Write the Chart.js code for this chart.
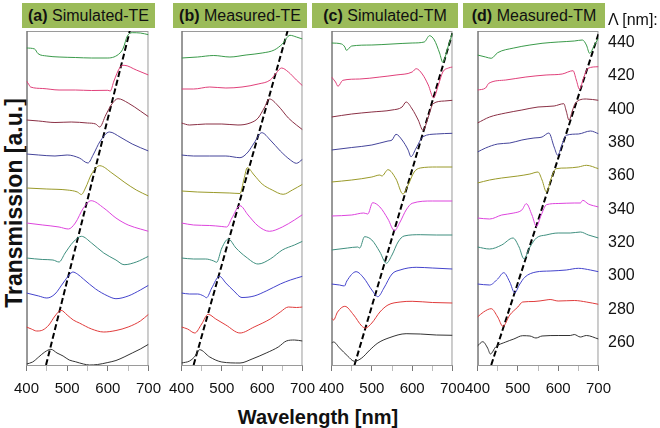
<!DOCTYPE html>
<html>
<head>
<meta charset="utf-8">
<script src="https://cdn.jsdelivr.net/npm/chart.js@4.4.0/dist/chart.umd.min.js"></script>
<style>
  body { margin: 0; background: #fff; font-family: "Liberation Sans", Arial, sans-serif; }
  #fig { position: relative; width: 660px; height: 428px; overflow: hidden; }
  .panel { position: absolute; top: 26px; }
  .title { position: absolute; top: 3px; height: 25px; line-height: 25px; background: #9bbb59;
           font-size: 16px; text-align: center; color: #111; white-space: nowrap; }
  .period { position: absolute; left: 608px; font-size: 16px; color: #111; }
  #ylab { position: absolute; left: 14px; top: 203px; transform: translate(-50%, -50%) rotate(-90deg);
          font-size: 23px; font-weight: bold; white-space: nowrap; color: #111; }
  #xlab { position: absolute; left: 318px; top: 417px; transform: translate(-50%, -50%);
          font-size: 20px; font-weight: bold; white-space: nowrap; color: #111; }
</style>
</head>
<body>
<div id="fig">
  <div id="ylab">Transmission [a.u.]</div>
  <div id="xlab">Wavelength [nm]</div>
</div>
<script>
// grating period of each curve, bottom to top
const periods = [260, 280, 300, 320, 340, 360, 380, 400, 420, 440];
const xTicks = [400, 500, 600, 700];
const panelTitles = [['(a)', 'Simulated-TE'], ['(b)', 'Measured-TE'], ['(c)', 'Simulated-TM'], ['(d)', 'Measured-TM']];

// vertical offset of each curve (value at 400 nm), a.u.
const baseA = [1, 38, 72, 107, 142, 177, 211, 245, 284, 317];
const baseB = [2, 38, 72, 107, 142, 174, 210, 242, 276, 307];
const baseC = [22, 47, 81, 115, 149, 183, 215, 248, 288, 322];
const baseD = [19, 48, 81, 118, 147, 182, 213, 242, 275, 310];

// [wavelength nm, transmission relative to offset] per curve
const simTE = [
  [[400,0],[415,2],[430,7],[445,12],[460,14.7],[475,11],[490,8],[505,4],[520,2.3],[540,0],[555,-1],[575,-0.5],[600,1.5],[620,3.5],[640,7],[660,11],[680,15],[700,19.7]],
  [[400,0],[412,-2],[425,-4],[440,-3],[455,2],[470,11],[485,16.7],[500,12],[515,7],[530,4],[560,-2],[590,-5],[620,-3.5],[650,0],[680,6],[700,12.7]],
  [[400,0],[430,-3],[450,-5],[470,-1],[490,10],[505,18],[514,21],[525,19],[540,14],[570,4],[600,-3],[620,-5.7],[650,-3],[680,3],[700,7.7]],
  [[400,0],[440,-1.5],[465,-2],[480,-4],[495,5],[515,16],[535,21.7],[560,15],[590,5],[620,-2],[640,-6.7],[670,-4],[700,1.7]],
  [[400,0],[440,-2],[480,-4],[503,-6],[520,0],[540,15],[559,22.3],[590,15],[620,5],[650,-2],[680,-6],[700,-8.3]],
  [[400,0],[450,-1],[500,-2],[525,-4],[535,-6.5],[545,0],[560,14],[580,22.3],[610,15],[640,6],[670,-2],[700,-8]],
  [[400,0],[430,-1],[470,-2],[500,-1],[530,-4],[551,-9],[565,0],[580,12],[604,22],[630,17],[660,10],[700,3]],
  [[400,0],[430,-1],[470,-2.5],[510,-2],[550,-3],[570,-4],[580,-7],[595,5],[610,16],[625,21.3],[650,17],[680,9],[700,3.3]],
  [[400,0],[405,-3],[410,-6],[440,-7.5],[480,-9],[520,-9],[560,-9.5],[600,-9.3],[606,-10],[615,0],[630,13.7],[640,15.7],[670,11],[700,6]],
  [[400,0],[420,-1],[428,-5.5],[450,-8],[480,-9],[520,-9.5],[560,-10],[600,-10],[630,-5],[638,0],[648,12],[660,15.3],[680,15],[700,13.3]]
];
const measTE = [
  [[400,0],[420,2],[432,6],[445,13.3],[470,6],[500,1],[545,0],[575,4],[610,10],[640,16],[660,22],[680,23],[700,22]],
  [[400,0],[415,-2],[433,-6],[450,3],[466,12.7],[485,8],[510,2],[545,-6],[580,0],[620,8],[645,15],[665,20],[685,19.5],[700,20]],
  [[400,0],[420,-1],[440,-1],[455,-3],[462,-4.7],[475,5],[494,16.7],[510,10],[530,2],[550,-4.5],[580,-3],[610,2],[645,9],[670,13],[700,16.7]],
  [[400,0],[430,-1],[460,-1],[480,-3],[487,-4.3],[500,10],[516,19],[535,10],[560,1],[590,-6],[620,-1],[650,8],[680,13],[700,16.7]],
  [[400,0],[430,-2],[470,-2.5],[500,-3.5],[512,-4],[525,5],[545,17.3],[565,8],[590,-3],[618,-8.3],[650,-4],[680,3],[700,8.3]],
  [[400,0],[440,-1],[480,-1.5],[520,-2],[545,-2.5],[555,12],[563,23.3],[580,16],[600,7],[625,1],[652,-3.3],[675,1],[700,6.7]],
  [[400,0],[430,-1],[470,-1],[510,-1],[545,-2.7],[565,3],[580,12],[599,22.3],[620,15],[645,4],[670,-5],[685,-8.3],[700,-4.3]],
  [[400,0],[420,-2],[460,-1],[500,-1],[540,-2],[570,0],[590,5],[605,15],[618,24],[640,17],[665,5],[685,-2],[700,-6.7]],
  [[400,0],[430,0],[470,2],[510,1],[550,2],[590,5],[620,9],[635,16],[648,21],[665,17],[685,9],[700,3.3]],
  [[400,0],[440,1],[480,2.5],[520,1],[560,3],[600,5],[630,8],[650,14],[669,22.7],[685,21],[700,19]]
];
const simTM = [
  [[400,0],[405,1],[420,-5],[440,-13],[457,-18.3],[475,-15],[495,-7],[515,0],[545,5.5],[585,9.3],[620,9],[660,8],[700,7.7]],
  [[400,0],[405,-2],[415,6],[433,11.7],[455,3],[475,-8],[484,-10],[500,-5],[520,6],[540,13],[570,16],[600,16.7],[650,15.5],[700,15]],
  [[400,0],[420,-1],[432,-2],[438,3],[461,12.3],[480,6],[500,-6],[515,-12.7],[530,-4],[550,10],[570,14],[610,16.7],[650,16],[700,15]],
  [[400,0],[440,2],[465,3],[470,2],[482,13.3],[500,10],[520,-2],[536,-13.3],[550,-5],[565,8],[580,14],[620,15.3],[660,15],[700,15]],
  [[400,0],[450,1],[480,3],[490,2],[502,13.3],[520,9],[540,-3],[556,-14.7],[570,-6],[585,6],[600,12.7],[650,15],[700,15]],
  [[400,0],[450,2],[500,5],[520,7],[525,6],[540,12.3],[560,3],[577,-12],[590,-3],[605,10],[620,14],[660,15],[700,15]],
  [[400,0],[450,2.5],[500,5],[540,9],[550,10],[560,15.7],[575,10],[590,0],[597,-6.7],[610,2],[627,13.3],[660,16],[700,16.7]],
  [[400,0],[450,3],[500,5],[550,7],[575,10],[585,15],[600,8],[615,-3],[627,-13.3],[640,0],[652,13.3],[680,16],[700,16.7]],
  [[400,0],[410,-5],[416,-9.3],[428,-3.3],[470,-2],[520,0],[560,2],[600,5],[610,8.3],[625,3],[640,-8],[653,-20.7],[665,-8],[676,5],[690,9],[700,10]],
  [[400,0],[425,-1],[433,-4],[437,-7.3],[450,-3],[500,-2],[550,-1],[600,0],[630,1],[643,7.3],[655,3],[668,-10],[676,-19.3],[688,-5],[700,10]]
];
const measTM = [
  [[400,0],[413,4.3],[425,-2],[432,-8],[445,-1],[470,4],[490,7],[512,10.3],[530,10],[545,8],[560,10],[600,10.5],[630,10.5],[640,11.5],[655,9],[670,10.5],[700,7]],
  [[400,0],[415,5],[434,8.3],[450,0],[463,-9.3],[480,2],[500,10],[512,15],[540,15.5],[570,17],[580,17.5],[600,16],[640,16.5],[670,15],[700,12.7]],
  [[400,0],[430,-1],[450,5],[465,11.3],[480,2],[492,-8.7],[505,0],[517,6.7],[545,12],[580,13],[620,14],[650,15.7],[680,14],[700,12.3]],
  [[400,0],[430,-2],[460,2],[488,9],[503,0],[515,-11.7],[530,0],[546,9],[570,12],[600,14],[630,14],[655,15],[675,12],[700,9]],
  [[400,0],[430,-1],[460,3],[490,5],[510,8],[521,14.3],[535,3],[546,-8.3],[558,3],[571,13.3],[600,14.5],[640,15],[655,15],[661,17.7],[675,14],[700,11]],
  [[400,0],[430,3],[460,5],[500,7],[530,9],[550,11],[560,3],[571,-9],[583,5],[595,14.3],[620,15],[650,16],[670,17.7],[700,14.3]],
  [[400,0],[420,4],[450,8],[480,9],[510,12],[540,14],[560,15],[577,19],[590,5],[599,-3.3],[610,8],[620,16.7],[650,18],[680,21],[700,18.3]],
  [[400,0],[430,6],[470,10],[510,13],[550,16],[590,17],[614,19.3],[620,12],[627,2.7],[635,12],[643,20],[670,24],[700,22.7]],
  [[400,0],[420,2],[428,6.7],[470,10],[520,13],[570,15],[610,16],[637,19.3],[645,10],[653,0.7],[663,12],[674,21.7],[700,23.3]],
  [[400,0],[420,-2],[434,-3.3],[450,2.3],[490,7],[530,10],[560,11.7],[600,13],[640,14],[660,15],[670,10],[678,1.7],[690,10],[700,17]]
];

// guide lines through the resonance, [wavelength, a.u.]
const dashA = [[448, 0], [654, 334]];
const dashB = [[430, 0], [663, 334]];
const dashC = [[457, 0], [700, 332]];
const dashD = [[434, 0], [700, 331]];

const lineColors = ['#333333', '#e03c3c', '#4444cc', '#3f8f7f', '#dd44dd', '#9a9a2a', '#44449a', '#8a3045', '#e0407a', '#3a9a4a'];

Chart.defaults.font.family = '"Liberation Sans", Arial, sans-serif';
Chart.defaults.color = '#111';
Chart.defaults.animation = false;

const framePlugin = {
  id: 'frame',
  beforeDatasetsDraw(chart) {
    const { ctx, chartArea: { left, top, right, bottom } } = chart;
    ctx.save();
    ctx.strokeStyle = '#9a9a9a';
    ctx.lineWidth = 1;
    ctx.strokeRect(left + 0.5, top + 0.5, right - left - 1, bottom - top);
    ctx.beginPath();
    ctx.strokeStyle = '#666';
    ctx.moveTo(left + 0.5, top);
    ctx.lineTo(left + 0.5, bottom);
    ctx.stroke();
    ctx.restore();
  }
};

const fig = document.getElementById('fig');
const plotLeft = [27, 182, 332, 478];
const plotWidth = [122, 121, 121, 121];
const plotTop = 31, plotBottom = 365, PANEL_TOP = 26;
const titleBox = [[22, 133], [173, 134], [312, 146], [463, 142]];

function buildChart(div, w, h, curves, bases, dash) {
  div.innerHTML = '';
  const canvas = document.createElement('canvas');
  canvas.width = w;
  canvas.height = h;
  canvas.style.width = w + 'px';
  canvas.style.height = h + 'px';
  div.appendChild(canvas);

  const datasets = curves.map((pts, i) => ({
    data: pts.map(([wl, v]) => ({ x: wl, y: v + bases[i] })),
    borderColor: lineColors[i],
    borderWidth: 1,
    pointRadius: 0,
    cubicInterpolationMode: 'monotone'
  }));
  datasets.push({
    data: dash.map(([wl, v]) => ({ x: wl, y: v })),
    borderColor: '#000',
    borderWidth: 2,
    borderDash: [6, 3],
    pointRadius: 0
  });

  return new Chart(canvas, {
    type: 'line',
    data: { datasets },
    options: {
      responsive: false,
      maintainAspectRatio: false,
      devicePixelRatio: 1,
      layout: { padding: { left: 0, right: 0, top: plotTop - PANEL_TOP, bottom: 0 } },
      plugins: { legend: { display: false }, tooltip: { enabled: false } },
      scales: {
        x: {
          type: 'linear', min: 400, max: 700,
          grid: {
            drawOnChartArea: false, drawTicks: true, tickLength: 6,
            tickColor: c => xTicks.includes(c.tick && c.tick.value) ? '#777' : '#bbb'
          },
          border: { display: true, color: '#888' },
          ticks: {
            stepSize: 50, autoSkip: false, maxRotation: 0, padding: 9,
            font: { size: 15 },
            callback: v => xTicks.includes(v) ? String(v) : ''
          }
        },
        y: { display: false, min: 0, max: 334 }
      }
    },
    plugins: [framePlugin]
  });
}

function makePanel(k, curves, bases, dash) {
  const t = document.createElement('div');
  t.className = 'title';
  t.style.left = titleBox[k][0] + 'px';
  t.style.width = titleBox[k][1] + 'px';
  t.innerHTML = '<b>' + panelTitles[k][0] + '</b> ' + panelTitles[k][1];
  fig.appendChild(t);

  const div = document.createElement('div');
  div.className = 'panel';
  fig.appendChild(div);

  // first pass measures how much room the axis labels take, second pass fits the plot area
  const w0 = plotWidth[k] + 40, h0 = 380;
  let chart = buildChart(div, w0, h0, curves, bases, dash);
  const ca = chart.chartArea;
  const w = plotWidth[k] + ca.left + (w0 - ca.right);
  const h = h0 + (plotBottom - PANEL_TOP) - ca.bottom;
  const left = ca.left;
  chart.destroy();
  chart = buildChart(div, Math.round(w), Math.round(h), curves, bases, dash);
  div.style.left = Math.round(plotLeft[k] - left) + 'px';
  return chart;
}

makePanel(0, simTE, baseA, dashA);
makePanel(1, measTE, baseB, dashB);
makePanel(2, simTM, baseC, dashC);
makePanel(3, measTM, baseD, dashD);

// period labels on the right
const lam = document.createElement('div');
lam.className = 'period';
lam.style.top = '11px';
lam.textContent = 'Λ [nm]:';
fig.appendChild(lam);
periods.forEach((p, i) => {
  const s = document.createElement('div');
  s.className = 'period';
  s.style.top = (342 - i * 33.33 - 9) + 'px';
  s.textContent = p;
  fig.appendChild(s);
});
</script>
</body>
</html>
